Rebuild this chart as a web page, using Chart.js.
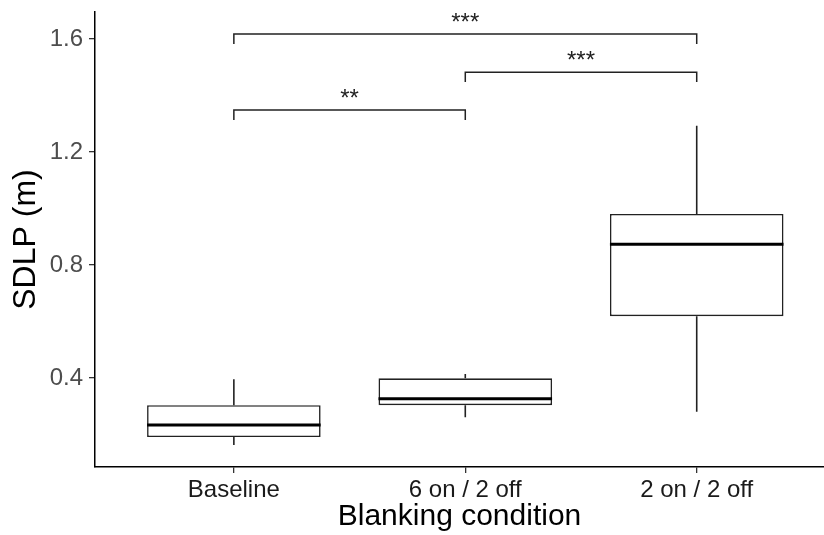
<!DOCTYPE html>
<html>
<head>
<meta charset="utf-8">
<script src="https://cdn.jsdelivr.net/npm/chart.js@4"></script>
<style>
body { margin: 0; background: #fff; }
#wrap { width: 824px; height: 535px; }
</style>
</head>
<body>
<div id="wrap"><canvas id="boxChart"></canvas></div>
<script>
const categories = ['Baseline', '6 on / 2 off', '2 on / 2 off'];
const whiskerLow = [0.163, 0.261, 0.281];
const q1 = [0.191, 0.304, 0.619];
const medians = [0.234, 0.327, 0.874];
const q3 = [0.304, 0.399, 0.981];
const whiskerHigh = [0.396, 0.414, 1.293];
const yTicks = [0.4, 0.8, 1.2, 1.6];

// significance brackets (category index from / to)
const bracketFrom = [0, 1, 0];
const bracketTo = [2, 2, 1];
const bracketY = [1.618, 1.483, 1.349];
const bracketLabel = ['***', '***', '**'];
const tipLength = 0.035;

Chart.defaults.font.family = '"Liberation Sans", Arial, sans-serif';

// whiskers, medians and brackets drawn from the scales
const boxParts = {
    id: 'boxParts',
    beforeDatasetsDraw(chart) {
        const ctx = chart.ctx;
        const x = chart.scales.x, y = chart.scales.y;
        ctx.save();
        ctx.strokeStyle = '#222';
        ctx.lineWidth = 1.6;
        categories.forEach((c, i) => {
            const px = x.getPixelForValue(i);
            ctx.beginPath();
            ctx.moveTo(px, y.getPixelForValue(whiskerLow[i]));
            ctx.lineTo(px, y.getPixelForValue(q1[i]));
            ctx.moveTo(px, y.getPixelForValue(q3[i]));
            ctx.lineTo(px, y.getPixelForValue(whiskerHigh[i]));
            ctx.stroke();
        });
        ctx.restore();
    },
    afterDatasetsDraw(chart) {
        const ctx = chart.ctx;
        const x = chart.scales.x, y = chart.scales.y;
        const meta = chart.getDatasetMeta(0);
        ctx.save();
        // medians
        ctx.strokeStyle = '#000';
        ctx.lineWidth = 3;
        meta.data.forEach((bar, i) => {
            const py = y.getPixelForValue(medians[i]);
            ctx.beginPath();
            ctx.moveTo(bar.x - bar.width / 2, py);
            ctx.lineTo(bar.x + bar.width / 2, py);
            ctx.stroke();
        });
        // brackets
        ctx.strokeStyle = '#222';
        ctx.lineWidth = 1.5;
        ctx.fillStyle = '#222';
        ctx.font = '24px "Liberation Sans", Arial, sans-serif';
        ctx.textAlign = 'center';
        ctx.textBaseline = 'alphabetic';
        bracketLabel.forEach((lab, i) => {
            const x0 = x.getPixelForValue(bracketFrom[i]);
            const x1 = x.getPixelForValue(bracketTo[i]);
            const yl = y.getPixelForValue(bracketY[i]);
            const yt = y.getPixelForValue(bracketY[i] - tipLength);
            ctx.beginPath();
            ctx.moveTo(x0, yt);
            ctx.lineTo(x0, yl);
            ctx.lineTo(x1, yl);
            ctx.lineTo(x1, yt);
            ctx.stroke();
            ctx.fillText(lab, (x0 + x1) / 2, yl - 4);
        });
        ctx.restore();
    }
};

const axisGrid = {
    display: true,
    drawOnChartArea: false,
    drawTicks: true,
    tickLength: 6,
    lineWidth: 1.3,
    color: '#333',
    offset: false
};

new Chart(document.getElementById('boxChart').getContext('2d'), {
    type: 'bar',
    plugins: [boxParts],
    data: {
        datasets: [{
            label: 'SDLP',
            data: categories.map((c, i) => ({ x: i, y: [q1[i], q3[i]] })),
            backgroundColor: '#fff',
            borderColor: '#222',
            borderWidth: 1.6,
            borderSkipped: false,
            categoryPercentage: 1,
            barPercentage: 0.75
        }]
    },
    options: {
        responsive: true,
        maintainAspectRatio: false,
        animation: false,
        layout: {
            padding: { top: 12, right: 0, left: 0, bottom: 0 }
        },
        plugins: {
            legend: { display: false },
            tooltip: { enabled: false }
        },
        scales: {
            x: {
                type: 'linear',
                min: -0.6,
                max: 2.55,
                offset: false,
                afterBuildTicks: (s) => {
                    s.ticks = categories.map((c, i) => ({ value: i }));
                },
                afterFit: (s) => {
                    s.height = 68;
                    s.paddingLeft = 0;
                    s.paddingRight = 0;
                },
                ticks: {
                    callback: (v) => categories[v],
                    color: '#1a1a1a',
                    font: { size: 24 },
                    padding: 3,
                    maxRotation: 0,
                    autoSkip: false
                },
                grid: axisGrid,
                border: { display: true, color: '#000', width: 1.5 },
                title: {
                    display: true,
                    text: 'Blanking condition',
                    color: '#000',
                    font: { size: 30 },
                    padding: 0
                }
            },
            y: {
                min: 0.085,
                max: 1.696,
                afterBuildTicks: (s) => {
                    s.ticks = yTicks.map(v => ({ value: v }));
                },
                afterFit: (s) => {
                    s.width = 95;
                    s.paddingTop = 0;
                    s.paddingBottom = 0;
                },
                ticks: {
                    callback: (v) => v.toFixed(1),
                    color: '#4d4d4d',
                    font: { size: 24 },
                    padding: 6
                },
                grid: axisGrid,
                border: { display: true, color: '#000', width: 1.5 },
                title: {
                    display: true,
                    text: 'SDLP (m)',
                    color: '#000',
                    font: { size: 32 },
                    padding: { top: 7, bottom: 0 }
                }
            }
        }
    }
});
</script>
</body>
</html>
